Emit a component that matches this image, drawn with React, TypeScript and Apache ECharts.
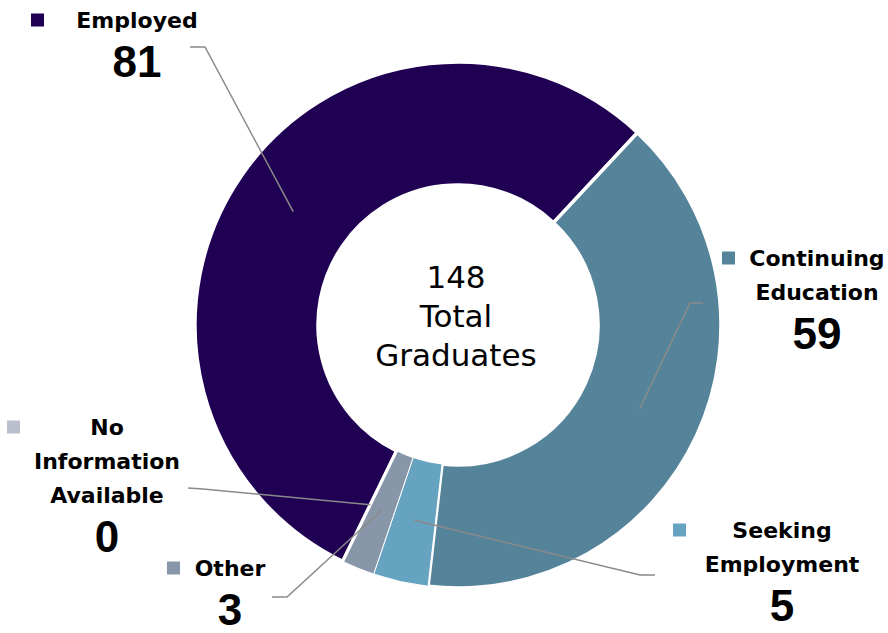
import React, { useEffect, useRef } from 'react';
import * as echarts from 'echarts';

const categories = ['Employed', 'Continuing Education', 'Seeking Employment', 'Other', 'No Information Available'];
const labelLines = [['Employed'], ['Continuing', 'Education'], ['Seeking', 'Employment'], ['Other'], ['No', 'Information', 'Available']];
const values = [81, 59, 5, 3, 0];
const colors = ['#1f0052', '#55849a', '#66a3c0', '#8896a9', '#b9c0cc'];
const centerWords = ['Total', 'Graduates'];

const CX = 458;
const CY = 325;
const R_IN = 140;
const R_OUT = 263;
const LINE_R = 200;

const layout = [
  { box: [31, 3], w: 186, end: [190, 47], elbow: [205, 47], bw: 3.5 },
  { box: [722, 241], w: 164, end: [703, 303], elbow: [690, 303], bw: 3.5 },
  { box: [673, 513], w: 192, end: [655, 575], elbow: [640, 575], bw: 1 },
  { box: [167, 551], w: 100, end: [272, 597], elbow: [287, 597], bw: 1 },
  { box: [7, 410], w: 174, end: [188, 488], elbow: [203, 489], bw: 3 },
];

export default function App() {
  const ref = useRef<HTMLDivElement>(null);
  useEffect(() => {
    document.body.style.margin = '0';
    if (!ref.current) return;
    const chart = echarts.init(ref.current, null, { renderer: 'svg' });
    const total = values.reduce((a, b) => a + b, 0);

    const rich: any = {
      s: { width: 13, height: 13, align: 'left' },
    };
    categories.forEach((_, i) => {
      rich['m' + i] = { width: 13, height: 13, align: 'left', backgroundColor: colors[i] };
      rich['n' + i] = {
        width: layout[i].w,
        align: 'center',
        fontFamily: 'DejaVu Sans',
        fontWeight: 'bold',
        fontSize: 22,
        lineHeight: 34,
        color: '#000',
      };
      rich['v' + i] = {
        width: layout[i].w,
        align: 'center',
        fontFamily: 'Liberation Sans',
        fontWeight: 'bold',
        fontSize: 44,
        lineHeight: 48,
        color: '#000',
      };
    });

    const data = categories.map((name, i) => ({
      name,
      value: values[i],
      itemStyle: { color: colors[i], borderColor: '#ffffff', borderWidth: layout[i].bw },
    }));

    const labelData = categories.map((name, i) => ({
      name,
      value: values[i],
      itemStyle: { color: 'rgba(0,0,0,0)', borderWidth: 0 },
    }));

    chart.setOption({
      animation: false,
      backgroundColor: '#ffffff',
      graphic: [
        {
          type: 'text',
          x: 456,
          y: 316,
          silent: true,
          style: {
            text: [String(total), ...centerWords].join('\n'),
            fontFamily: 'DejaVu Sans',
            fontSize: 31,
            lineHeight: 39,
            fill: '#000',
            textAlign: 'center',
            textVerticalAlign: 'middle',
          },
        },
      ],
      series: [
        {
          type: 'pie',
          z: 2,
          center: [CX, CY],
          radius: [R_IN, R_OUT],
          startAngle: 244,
          clockwise: true,
          silent: true,
          emphasis: { disabled: true },
          data,
          label: { show: false },
          labelLine: { show: false },
        },
        {
          type: 'pie',
          z: 5,
          center: [CX, CY],
          radius: [R_IN, R_OUT],
          startAngle: 244,
          clockwise: true,
          avoidLabelOverlap: false,
          silent: true,
          emphasis: { disabled: true },
          data: labelData,
          label: {
            show: true,
            position: 'outside',
            formatter: (p: any) => {
              const i = p.dataIndex;
              const lines = labelLines[i];
              const out: string[] = [];
              lines.forEach((ln, k) => {
                out.push((k === 0 ? `{m${i}|}` : '{s|}') + `{n${i}|${ln}}`);
              });
              out.push(`{s|}{v${i}|${values[i]}}`);
              return out.join('\n');
            },
            rich,
          },
          labelLine: {
            show: true,
            showAbove: true,
            length: 20,
            length2: 15,
            lineStyle: { color: '#8a8a8a', width: 1.5, opacity: 1 },
          },
          labelLayout: (p: any) => {
            const L = layout[p.dataIndex];
            const pts = p.labelLinePoints;
            let start = [CX, CY];
            if (pts && pts[0]) {
              const dx = pts[0][0] - CX;
              const dy = pts[0][1] - CY;
              const d = Math.hypot(dx, dy) || 1;
              start = [CX + (dx / d) * LINE_R, CY + (dy / d) * LINE_R];
            }
            return {
              x: L.box[0],
              y: L.box[1],
              align: 'left',
              verticalAlign: 'top',
              labelLinePoints: [start, L.elbow, L.end],
            };
          },
        },
      ],
    });
    return () => chart.dispose();
  }, []);
  return <div ref={ref} style={{ width: 888, height: 633 }} />;
}
